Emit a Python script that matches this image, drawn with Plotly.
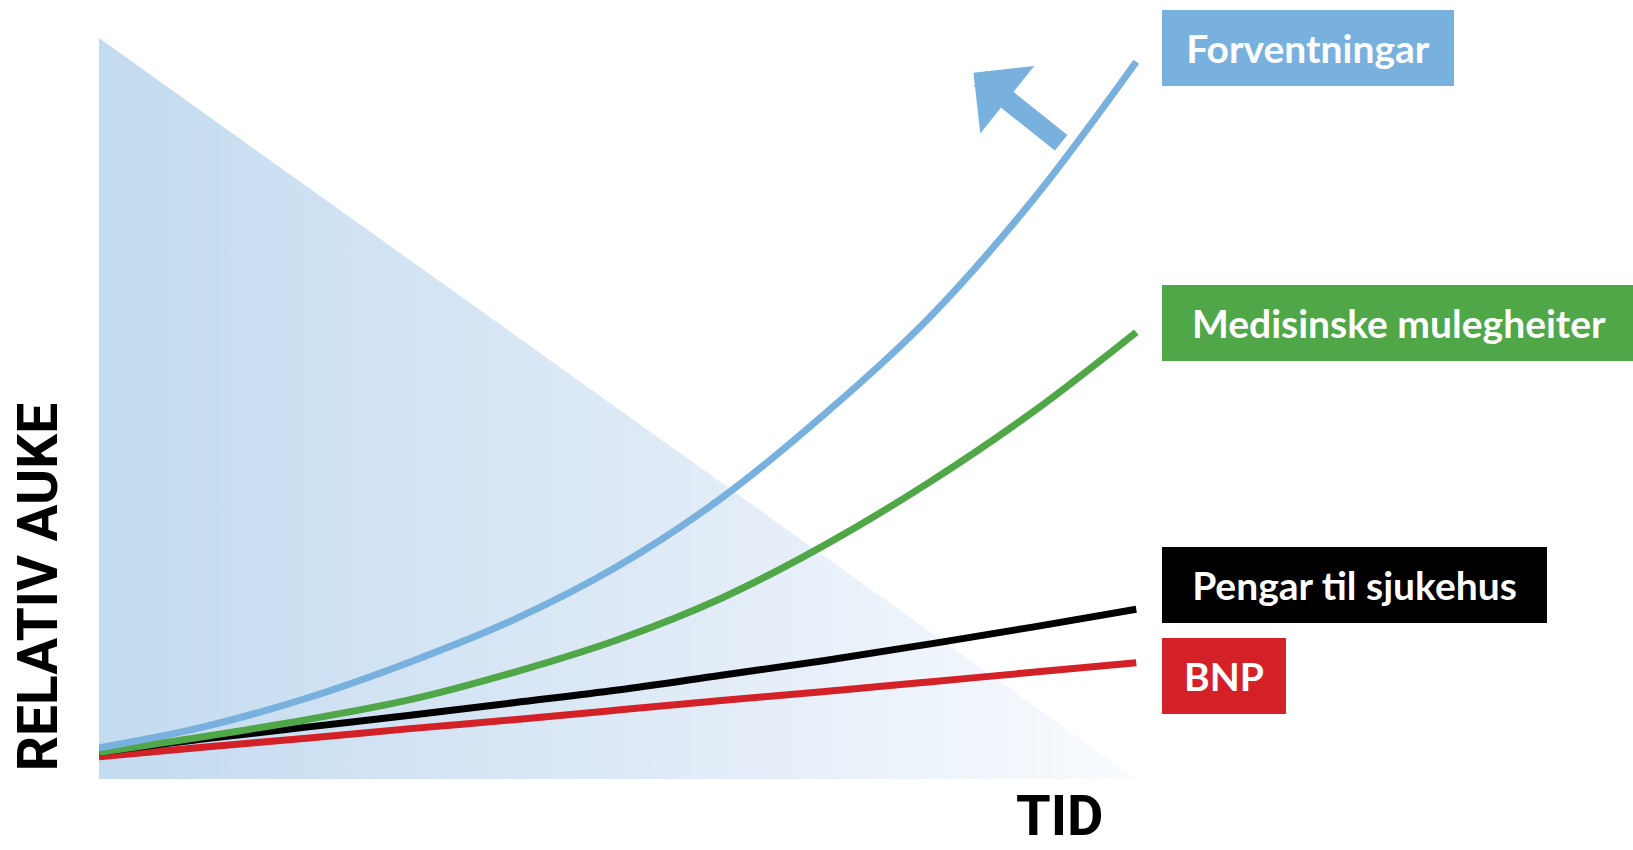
import plotly.graph_objects as go

# ---- data (TID on x, relative increase on y) ----
tid = [0, 1, 2, 3, 4, 5, 6, 7, 8, 9, 10]
forventningar = [4.2, 7.0, 10.9, 15.8, 21.5, 28.7, 37.9, 49.3, 62.2, 78.1, 96.8]
medisinske = [3.6, 5.7, 8.0, 10.7, 14.4, 18.8, 24.4, 31.6, 40.0, 49.5, 60.3]
pengar = [3.6, 5.4, 7.0, 8.6, 10.3, 12.0, 14.0, 16.0, 18.2, 20.5, 22.9]
bnp = [3.0, 4.3, 5.5, 6.8, 8.0, 9.3, 10.6, 11.8, 13.1, 14.4, 15.7]

series_names = ["Forventningar", "Medisinske mulegheiter", "Pengar til sjukehus", "BNP"]
series_values = [forventningar, medisinske, pengar, bnp]
series_colors = ["#78b1de", "#50a747", "#000000", "#d42027"]

# background wedge (shrinking resources) as a triangle
wedge_x = [0, 0, 10, 0]
wedge_y = [0, 100, 0, 0]

fig = go.Figure()

fig.add_trace(go.Scatter(
    x=wedge_x, y=wedge_y, mode="lines", fill="toself",
    line=dict(width=0, color="rgba(0,0,0,0)"),
    fillgradient=dict(type="horizontal",
                      colorscale=[[0, "#c3dbf0"], [0.5, "#dde9f6"], [1, "#f9fbfe"]]),
    hoverinfo="skip", showlegend=False,
))

# draw lines bottom-up so blue is on top
for name, vals, col in list(zip(series_names, series_values, series_colors))[::-1]:
    fig.add_trace(go.Scatter(
        x=tid, y=vals, mode="lines", name=name,
        line=dict(color=col, width=7, shape="spline", smoothing=1.0),
        showlegend=False,
    ))

# label boxes
label_pos = [  # (x, y centre, box width)
    (10.25, 98.65, 292),
    (10.25, 61.5, 474),
    (10.25, 26.2, 385),
    (10.25, 13.9, 124),
]
for name, col, (lx, ly, w) in zip(series_names, series_colors, label_pos):
    fig.add_annotation(
        x=lx, y=ly, xref="x", yref="y", xanchor="left", yanchor="middle",
        text="<b>" + name + "</b>", showarrow=False, width=w, height=76,
        align="center", valign="middle",
        bgcolor=col, borderpad=0, borderwidth=0,
        font=dict(family="Lato", size=39, color="white"),
    )

# arrow
fig.add_annotation(
    x=8.43, y=95.3, ax=9.29, ay=85.7, xref="x", yref="y", axref="x", ayref="y",
    text="", showarrow=True, arrowhead=1, arrowwidth=20, arrowsize=0.72,
    arrowcolor="#78b1de", standoff=0,
)

# axis titles
fig.add_annotation(
    x=-0.0535, y=0.260, xref="paper", yref="paper", text="<b>RELATIV AUKE</b>",
    textangle=-90, showarrow=False, xanchor="center", yanchor="middle",
    font=dict(family="Roboto", size=55, color="#000000"),
)
fig.add_annotation(
    x=0.842, y=-0.050, xref="paper", yref="paper", text="<b>TID</b>",
    showarrow=False, xanchor="center", yanchor="middle",
    font=dict(family="Roboto", size=56, color="#000000"),
)

fig.update_layout(
    width=1633, height=850,
    margin=dict(l=99, r=393, t=38, b=71),
    paper_bgcolor="white", plot_bgcolor="white",
    xaxis=dict(range=[0, 11], visible=False, fixedrange=True),
    yaxis=dict(range=[0, 100], visible=False, fixedrange=True),
    showlegend=False,
)

fig.write_html("out.html")
